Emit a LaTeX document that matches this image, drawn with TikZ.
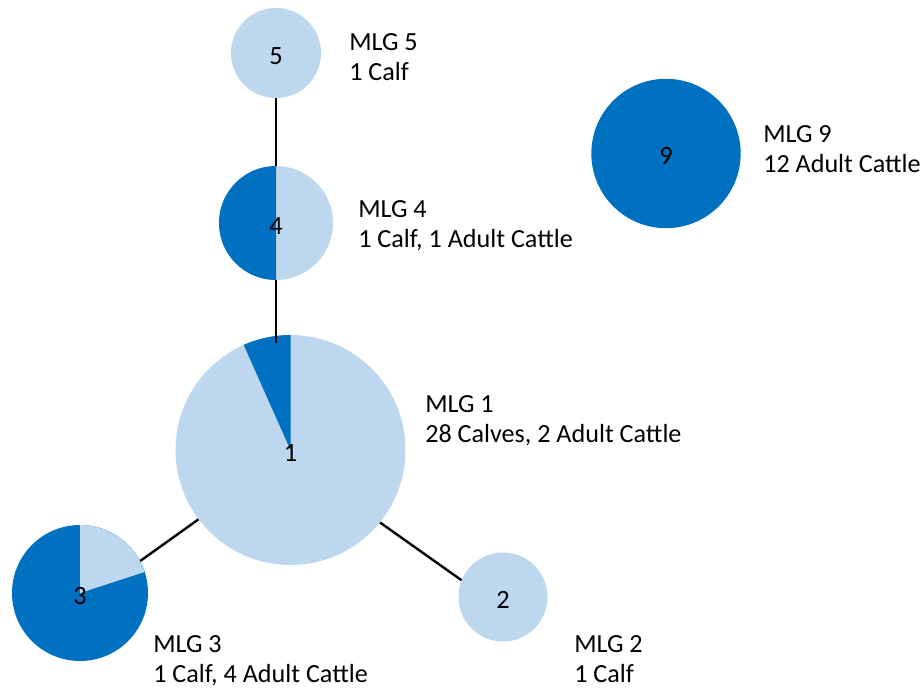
\documentclass[tikz,border=0pt]{standalone}
\usepackage{fontspec}
\setmainfont{Carlito}
\definecolor{darkblue}{HTML}{0070C0}
\definecolor{lightblue}{HTML}{BDD7EE}
\begin{document}
\begin{tikzpicture}[x=0.75pt,y=0.75pt,
  mlg/.style={circle, draw=none, inner sep=0pt, font=\fontsize{19.8}{22.2}\selectfont,
    text height=17pt, text depth=0pt},
  lab/.style={anchor=north west, inner sep=0pt, align=left, font=\fontsize{19.6}{22.4}\selectfont},
  link/.style={draw=black, line width=1.8pt}]
\fill[white] (0,0) rectangle (922,689);
\useasboundingbox (0,0) rectangle (922,689);

% nodes (pies)
\node[mlg, fill=lightblue, minimum size=67.5pt] (n5) at (276,636) {5};
\node[mlg, fill=lightblue, minimum size=85.5pt,
  path picture={\fill[darkblue] (path picture bounding box.center) -- ++(90:57) arc[start angle=90, end angle=270, radius=57] -- cycle;}]
  (n4) at (276,466) {4};
\node[mlg, fill=lightblue, minimum size=172.5pt,
  path picture={\fill[darkblue] (path picture bounding box.center) -- ++(90:115) arc[start angle=90, end angle=114, radius=115] -- cycle;}]
  (n1) at (290.5,239) {1};
\node[mlg, fill=darkblue, minimum size=102pt,
  path picture={\fill[lightblue] (path picture bounding box.center) -- ++(18:68) arc[start angle=18, end angle=90, radius=68] -- cycle;}]
  (n3) at (80,96) {3};
\node[mlg, fill=lightblue, minimum size=66.75pt] (n2) at (503,92) {2};
\node[mlg, fill=darkblue, minimum size=112pt] (n9) at (666,535.5) {9};

% connectors
\coordinate (c41) at (276,346);
\draw[link] (n5) -- (n4);
\draw[link] (n4) -- (c41);
\draw[link] (n1.217) -- (n3.28);
\draw[link] (n1.321) -- (n2.158);

% labels
\node[lab] (l5) at (349,656) {MLG 5\\1 Calf};
\node[lab] (l4) at (358,489) {MLG 4\\1 Calf, 1 Adult Cattle};
\node[lab] (l9) at (763,563.3) {MLG 9\\12 Adult Cattle};
\node[lab] (l1) at (425,294) {MLG 1\\28 Calves, 2 Adult Cattle};
\node[lab] (l3) at (153,54) {MLG 3\\1 Calf, 4 Adult Cattle};
\node[lab] (l2) at (574,54) {MLG 2\\1 Calf};
\end{tikzpicture}
\end{document}
